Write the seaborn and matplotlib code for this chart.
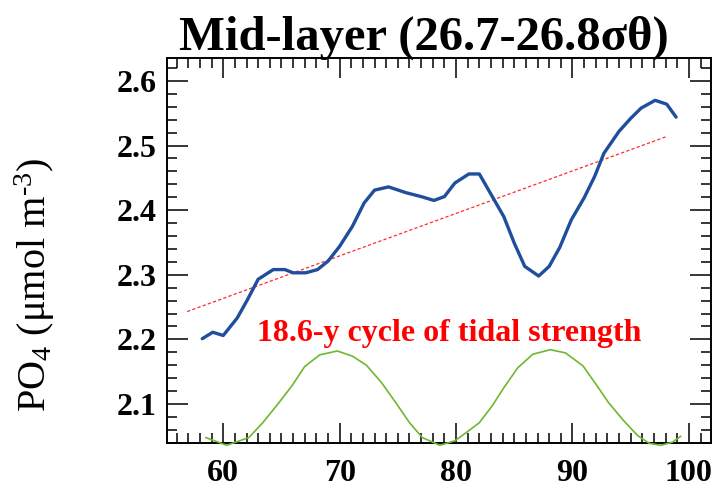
import numpy as np
import pandas as pd
import matplotlib
matplotlib.use("Agg")
import matplotlib.pyplot as plt
from matplotlib.ticker import MultipleLocator, FixedLocator
import seaborn as sns

# PO4 concentration in the mid-layer (year of 19xx, umol m-3)
po4_year = [58.2, 59.1, 60.0, 61.2, 62.1, 63.0, 64.3, 65.3, 66.0, 67.1, 68.1, 69.0,
            70.0, 71.1, 72.1, 73.0, 74.2, 75.7, 77.0, 78.1, 79.0, 79.9, 81.1, 82.0,
            84.1, 85.0, 85.9, 87.1, 88.0, 88.9, 89.9, 91.0, 91.9, 92.7, 94.0, 95.0,
            95.9, 97.1, 98.1, 98.9]
po4_value = [2.201, 2.211, 2.206, 2.233, 2.262, 2.293, 2.308, 2.308, 2.303, 2.303, 2.308, 2.321,
             2.344, 2.375, 2.411, 2.431, 2.436, 2.427, 2.421, 2.415, 2.421, 2.442, 2.456, 2.456,
             2.390, 2.349, 2.313, 2.298, 2.313, 2.342, 2.385, 2.419, 2.452, 2.488, 2.522, 2.542,
             2.558, 2.570, 2.564, 2.544]

# linear trend of the PO4 series
trend_year = [56.9, 98.1]
trend_value = [2.243, 2.514]

# 18.6-year nodal tidal cycle, drawn on the same axis scale
tide_year = [58.5, 60.3, 62.2, 63.4, 64.7, 65.9, 67.0, 68.3, 69.8, 71.1, 72.3, 73.6,
             74.9, 76.0, 77.1, 78.6, 79.9, 80.9, 82.0, 83.1, 84.1, 85.3, 86.6, 88.1,
             89.4, 90.9, 92.0, 93.1, 94.4, 95.6, 96.6, 97.6, 98.6, 99.3]
tide_value = [2.048, 2.036, 2.048, 2.071, 2.100, 2.128, 2.158, 2.176, 2.182, 2.174, 2.160, 2.133,
              2.100, 2.071, 2.048, 2.036, 2.043, 2.056, 2.071, 2.097, 2.125, 2.156, 2.177, 2.184,
              2.179, 2.159, 2.131, 2.102, 2.074, 2.051, 2.039, 2.036, 2.041, 2.050]

x_ticks = [60, 70, 80, 90, 100]
y_ticks = [2.1, 2.2, 2.3, 2.4, 2.5, 2.6]

sns.set_theme(style="ticks")
plt.rcParams.update({
    "font.family": ["Liberation Serif", "DejaVu Serif"],
    "mathtext.fontset": "custom",
    "mathtext.rm": "Liberation Serif",
    "mathtext.it": "Liberation Serif:italic",
    "mathtext.bf": "Liberation Serif:bold",
    "text.color": "black",
    "axes.edgecolor": "black",
    "axes.linewidth": 1.4,
    "axes.axisbelow": False,
})

fig = plt.figure(figsize=(7.13, 4.93), dpi=100)
ax = fig.add_axes([0.2347, 0.102, 0.9972 - 0.2347, 0.883 - 0.102])
ax.set_axisbelow(False)

po4 = pd.DataFrame({"year": po4_year, "po4": po4_value})
trend = pd.DataFrame({"year": trend_year, "po4": trend_value})
tide = pd.DataFrame({"year": tide_year, "po4": tide_value})

sns.lineplot(data=tide, x="year", y="po4", ax=ax, color="#6cb930", lw=1.2,
             sort=False, clip_on=False, zorder=3)
sns.lineplot(data=trend, x="year", y="po4", ax=ax, color="#ff2a2a", lw=0.9,
             zorder=2).lines[-1].set_dashes((2.6, 1.8))
sns.lineplot(data=po4, x="year", y="po4", ax=ax, color="#1f4e9c", lw=2.4,
             sort=False, zorder=4)

ax.set_xlim(55.2, 101.9)
ax.set_ylim(2.04, 2.636)
ax.set_xlabel("")
ax.set_ylabel("")
ax.xaxis.set_major_locator(FixedLocator(x_ticks))
ax.xaxis.set_minor_locator(MultipleLocator(1))
ax.yaxis.set_major_locator(FixedLocator(y_ticks))
ax.yaxis.set_minor_locator(MultipleLocator(0.02))
ax.set_xticklabels([str(v) for v in x_ticks], fontweight="bold")
ax.set_yticklabels([f"{v:.1f}" for v in y_ticks], fontweight="bold")

for sp in ax.spines.values():
    sp.set_visible(True)
    sp.set_color("black")
    sp.set_linewidth(1.4)

# inward ticks on all four sides, long majors and short minors
ax.tick_params(axis="both", which="both", direction="in", top=True, right=True,
               bottom=True, left=True, color="black", labelcolor="black", width=1.1)
ax.tick_params(axis="x", which="major", length=14.5, pad=12, labelsize=23)
ax.tick_params(axis="y", which="major", length=15.0, pad=8, labelsize=23)
ax.tick_params(axis="x", which="minor", length=7.2)
ax.tick_params(axis="y", which="minor", length=7.5)

fig.text(35 / 713, 1 - 285 / 493, r"PO$_4$ ($\mathrm{\mu}$mol m$^{\text{-}3}$)", rotation=90,
         ha="center", va="center", fontsize=29)

ax.text(62.86, 2.197, "18.6-y cycle of tidal strength", color="#ff0000",
        fontsize=23, fontweight="bold", ha="left", va="baseline")

fig.text(424 / 713, 1 - 50 / 493, "Mid-layer (26.7-26.8σθ)", ha="center", va="baseline",
         fontsize=35, fontweight="bold")

fig.savefig("out.png", dpi=100)
